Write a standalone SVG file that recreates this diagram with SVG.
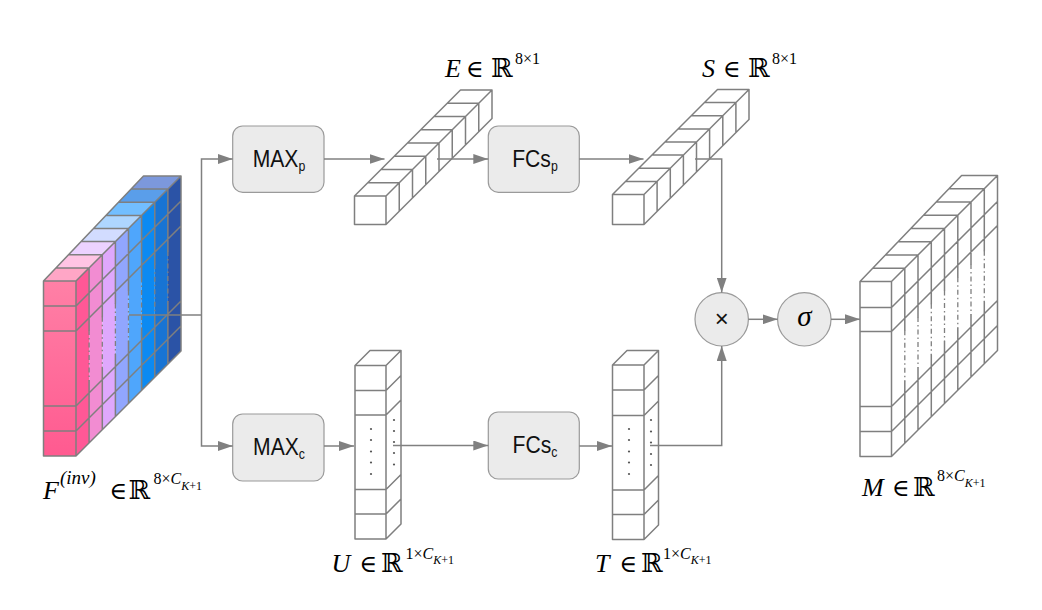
<svg xmlns="http://www.w3.org/2000/svg" width="1042" height="610" viewBox="0 0 1042 610">
<style>
.ln{fill:none;stroke:#7f7f7f;stroke-width:1.5;stroke-linejoin:round;stroke-linecap:round}
.dsh{fill:none;stroke:#7f7f7f;stroke-width:1.3;stroke-dasharray:5 3 1.5 3}
.wf{fill:#fff;stroke:none}
.box{fill:#ebebeb;stroke:#9a9a9a;stroke-width:1.2}
.conn{fill:none;stroke:#808080;stroke-width:1.5}
.arr{marker-end:url(#ah)}
.lbl{font-family:"Liberation Serif","DejaVu Serif",serif;font-size:26px;fill:#000}
.it{font-style:italic}
.el{font-size:24px}
.sup{font-size:16px}
.sub{font-size:12px}
.btxt{font-family:"Liberation Sans",Arial,sans-serif;font-size:24px;fill:#111}
.dot{fill:#555}
</style>
<defs>
<marker id="ah" viewBox="0 0 15 10" refX="15" refY="5" markerUnits="userSpaceOnUse" markerWidth="15" markerHeight="10" orient="auto">
<path d="M0,0 L15,5 L0,10 z" fill="#808080"/>
</marker>
<linearGradient id="fg" x1="0" y1="0" x2="0" y2="1">
<stop offset="0" stop-color="#ff80a6"/>
<stop offset="1" stop-color="#ff5a90"/>
</linearGradient>
</defs>
<rect width="1042" height="610" fill="#fff"/>

<!-- F tensor -->
<g id="F">
<polygon points="76,281 89.1,267.9 89.1,442.9 76,456" fill="#ff5896"/>
<polygon points="89.1,267.9 102.3,254.8 102.3,429.8 89.1,442.9" fill="#f28cd2"/>
<polygon points="102.3,254.8 115.4,241.6 115.4,416.6 102.3,429.8" fill="#dfa8fc"/>
<polygon points="115.4,241.6 128.5,228.5 128.5,403.5 115.4,416.6" fill="#91a6fe"/>
<polygon points="128.5,228.5 141.6,215.4 141.6,390.4 128.5,403.5" fill="#4fa6fc"/>
<polygon points="141.6,215.4 154.8,202.3 154.8,377.3 141.6,390.4" fill="#0c8af2"/>
<polygon points="154.8,202.3 167.9,189.1 167.9,364.1 154.8,377.3" fill="#1874d4"/>
<polygon points="167.9,189.1 181,176 181,351 167.9,364.1" fill="#2b53a6"/>
<polygon points="43.5,281 76,281 89.1,267.9 56,267.9" fill="#ffa6c6"/>
<polygon points="56,267.9 89.1,267.9 102.3,254.8 68.5,254.8" fill="#ffc4e4"/>
<polygon points="68.5,254.8 102.3,254.8 115.4,241.6 81,241.6" fill="#ecd2ff"/>
<polygon points="81,241.6 115.4,241.6 128.5,228.5 93.5,228.5" fill="#d2dcff"/>
<polygon points="93.5,228.5 128.5,228.5 141.6,215.4 106,215.4" fill="#aed6ff"/>
<polygon points="106,215.4 141.6,215.4 154.8,202.3 118.5,202.3" fill="#72beff"/>
<polygon points="118.5,202.3 154.8,202.3 167.9,189.1 131,189.1" fill="#5a9eea"/>
<polygon points="131,189.1 167.9,189.1 181,176 143.5,176" fill="#7c98dc"/>
<rect x="43.5" y="281" width="32.5" height="175" fill="url(#fg)"/>
<path class="ln" d="M43.5,306H76M43.5,331H76M43.5,406H76M43.5,431H76
M76,306L181,201M76,331L181,226M76,406L181,301M76,431L181,326
M56,267.9H89.1M68.5,254.8H102.3M81,241.6H115.4M93.5,228.5H128.5M106,215.4H141.6M118.5,202.3H154.8M131,189.1H167.9
M89.1,267.9V329.9M89.1,380.9V442.9
M102.3,254.8V316.8M102.3,367.8V429.8
M115.4,241.6V303.6M115.4,354.6V416.6
M128.5,228.5V290.5M128.5,341.5V403.5
M141.6,215.4V277.4M141.6,328.4V390.4
M154.8,202.3V264.3M154.8,315.3V377.3
M167.9,189.1V251.1M167.9,302.1V364.1
M43.5,281L143.5,176H181V351L76,456H43.5Z M43.5,281H76V456M76,281L181,176"/>
<path class="dsh" d="M89.1,329.9V380.9M102.3,316.8V367.8M115.4,303.6V354.6M128.5,290.5V341.5M141.6,277.4V328.4M154.8,264.3V315.3M167.9,251.1V302.1"/>
</g>

<!-- MAXp -->
<g id="maxp">
<rect class="box" x="232.7" y="126" width="91.3" height="66.3" rx="10"/>
<text class="btxt" transform="translate(279,167) scale(0.88,1)" text-anchor="middle">MAX<tspan font-size="14" dy="4">p</tspan></text>
</g>
<!-- MAXc -->
<g id="maxc">
<rect class="box" x="232.7" y="414" width="91.3" height="67" rx="10"/>
<text class="btxt" transform="translate(279,455) scale(0.88,1)" text-anchor="middle">MAX<tspan font-size="14" dy="4">c</tspan></text>
</g>
<!-- FCsp -->
<g id="fcsp">
<rect class="box" x="488.3" y="126" width="91" height="66.3" rx="10"/>
<text class="btxt" transform="translate(535,167) scale(0.88,1)" text-anchor="middle">FCs<tspan font-size="14" dy="4">p</tspan></text>
</g>
<!-- FCsc -->
<g id="fcsc">
<rect class="box" x="488.3" y="412" width="91" height="67" rx="10"/>
<text class="btxt" transform="translate(535,453) scale(0.88,1)" text-anchor="middle">FCs<tspan font-size="14" dy="4">c</tspan></text>
</g>

<!-- E tensor -->
<g id="E">
<polygon class="wf" points="354.5,196 386,196 492,90 460.5,90"/>
<polygon class="wf" points="386,196 492,90 492,118.5 386,224.5"/>
<rect class="wf" x="354.5" y="196" width="31.5" height="28.5"/>
<path class="ln" d="M367.75,182.75H399.25M381,169.5H412.5M394.25,156.25H425.75M407.5,143H439M420.75,129.75H452.25M434,116.5H465.5M447.25,103.25H478.75
M399.25,182.75V211.25M412.5,169.5V198M425.75,156.25V184.75M439,143V171.5M452.25,129.75V158.25M465.5,116.5V145M478.75,103.25V131.75
M354.5,196L460.5,90H492V118.5L386,224.5H354.5Z M354.5,196H386V224.5M386,196L492,90"/>
</g>

<!-- S tensor -->
<g id="S">
<polygon class="wf" points="612.5,194.5 644,194.5 749,89.5 717.5,89.5"/>
<polygon class="wf" points="644,194.5 749,89.5 749,119.5 644,224.5"/>
<rect class="wf" x="612.5" y="194.5" width="31.5" height="30"/>
<path class="ln" d="M625.6,181.4H657.1M638.8,168.3H670.3M651.9,155.1H683.4M665,142H696.5M678.1,128.9H709.6M691.3,115.8H722.8M704.4,102.6H735.9
M657.1,181.4V211.4M670.3,168.3V198.3M683.4,155.1V185.1M696.5,142V172M709.6,128.9V158.9M722.8,115.8V145.8M735.9,102.6V132.6
M612.5,194.5L717.5,89.5H749V119.5L644,224.5H612.5Z M612.5,194.5H644V224.5M644,194.5L749,89.5"/>
</g>

<!-- U tensor -->
<g id="U">
<polygon class="wf" points="355,365.5 386,365.5 401,350.5 370,350.5"/>
<polygon class="wf" points="386,365.5 401,350.5 401,524 386,539"/>
<rect class="wf" x="355" y="365.5" width="31" height="173.5"/>
<path class="ln" d="M355,390.5H386M355,415H386M355,489.5H386M355,514H386
M386,390.5L401,375.5M386,415L401,400M386,489.5L401,474.5M386,514L401,499
M355,365.5L370,350.5H401V524L386,539H355Z M355,365.5H386V539M386,365.5L401,350.5"/>
<circle class="dot" cx="371" cy="429" r="1.1"/><circle class="dot" cx="371" cy="440" r="1.1"/><circle class="dot" cx="371" cy="451.5" r="1.1"/><circle class="dot" cx="371" cy="462.5" r="1.1"/><circle class="dot" cx="371" cy="474" r="1.1"/>
<circle class="dot" cx="394" cy="420" r="1.1"/><circle class="dot" cx="394" cy="431" r="1.1"/><circle class="dot" cx="394" cy="442" r="1.1"/><circle class="dot" cx="394" cy="453" r="1.1"/><circle class="dot" cx="394" cy="464.5" r="1.1"/>
</g>

<!-- T tensor -->
<g id="T">
<polygon class="wf" points="612.5,365 644,365 658.5,350.5 627,350.5"/>
<polygon class="wf" points="644,365 658.5,350.5 658.5,525 644,539.5"/>
<rect class="wf" x="612.5" y="365" width="31.5" height="174.5"/>
<path class="ln" d="M612.5,390H644M612.5,415.5H644M612.5,490H644M612.5,514.5H644
M644,390L658.5,375.5M644,415.5L658.5,401M644,490L658.5,475.5M644,514.5L658.5,500
M612.5,365L627,350.5H658.5V525L644,539.5H612.5Z M612.5,365H644V539.5M644,365L658.5,350.5"/>
<circle class="dot" cx="629" cy="429" r="1.1"/><circle class="dot" cx="629" cy="440" r="1.1"/><circle class="dot" cx="629" cy="451.5" r="1.1"/><circle class="dot" cx="629" cy="462.5" r="1.1"/><circle class="dot" cx="629" cy="474" r="1.1"/>
<circle class="dot" cx="651" cy="420" r="1.1"/><circle class="dot" cx="651" cy="431.5" r="1.1"/><circle class="dot" cx="651" cy="442.5" r="1.1"/><circle class="dot" cx="651" cy="454" r="1.1"/><circle class="dot" cx="651" cy="465" r="1.1"/>
</g>

<!-- M tensor -->
<g id="M">
<polygon class="wf" points="860,281.5 891.5,281.5 997.5,175.5 961.6,175.5"/>
<polygon class="wf" points="891.5,281.5 997.5,175.5 997.5,350.5 891.5,456.5"/>
<rect class="wf" x="860" y="281.5" width="31.5" height="175"/>
<path class="ln" d="M860,307.5H891.5M860,331.5H891.5M860,406.5H891.5M860,431.5H891.5
M891.5,307.5L997.5,201.5M891.5,331.5L997.5,225.5M891.5,406.5L997.5,300.5M891.5,431.5L997.5,325.5
M872.7,268.25H904.75M885.4,255H918M898.1,241.75H931.25M910.8,228.5H944.5M923.5,215.25H957.75M936.2,202H971M948.9,188.75H984.25
M904.8,268.3V330.3M904.8,381.3V443.3
M918,255V317M918,368V430
M931.3,241.8V303.8M931.3,354.8V416.8
M944.5,228.5V290.5M944.5,341.5V403.5
M957.8,215.3V277.3M957.8,328.3V390.3
M971,202V264M971,315V377
M984.3,188.8V250.8M984.3,301.8V363.8
M860,281.5L961.6,175.5H997.5V350.5L891.5,456.5H860Z M860,281.5H891.5V456.5M891.5,281.5L997.5,175.5"/>
<path class="dsh" d="M904.8,330.3V381.3M918,317V368M931.3,303.8V354.8M944.5,290.5V341.5M957.8,277.3V328.3M971,264V315M984.3,250.8V301.8"/>
</g>

<!-- operators -->
<g id="mul">
<circle cx="721.7" cy="319.3" r="26.7" fill="#ebebeb" stroke="#9a9a9a" stroke-width="1.2"/>
<text x="721.7" y="327" text-anchor="middle" font-family="Liberation Sans, Arial, sans-serif" font-size="24" fill="#111">×</text>
</g>
<g id="sigma">
<circle cx="804.3" cy="319.3" r="26.7" fill="#ebebeb" stroke="#9a9a9a" stroke-width="1.2"/>
<text x="804.3" y="326" text-anchor="middle" font-family="Liberation Serif, DejaVu Serif, serif" font-style="italic" font-size="29" fill="#000">σ</text>
</g>

<!-- connectors -->
<g id="connectors">
<path class="conn" d="M129,315H201.5"/>
<path class="conn arr" d="M201.5,315V159H232.7"/>
<path class="conn arr" d="M201.5,315V446H232.7"/>
<path class="conn arr" d="M324,159H384.5"/>
<path class="conn arr" d="M437,159H488.3"/>
<path class="conn arr" d="M579.3,159H643.5"/>
<path class="conn arr" d="M695,159H721.7V292.6"/>
<path class="conn arr" d="M324,446H354"/>
<path class="conn arr" d="M393,445.5H488.3"/>
<path class="conn arr" d="M579.3,446H612"/>
<path class="conn arr" d="M650,445.5H721.7V346"/>
<path class="conn arr" d="M748.4,319.3H777.6"/>
<path class="conn arr" d="M831,319.3H860"/>
</g>

<!-- labels -->
<g id="labels">
<text class="lbl"><tspan class="it" x="43" y="499">F</tspan><tspan class="it" x="60" y="484" font-size="19">(inv)</tspan><tspan class="el" x="109.5" y="499">∈</tspan><tspan x="128.5" y="499">ℝ</tspan><tspan class="sup" x="153.5" y="484">8×</tspan><tspan class="sup it">C</tspan><tspan class="sub it" dy="6">K</tspan><tspan class="sub">+1</tspan></text>
<text class="lbl"><tspan class="it" x="445" y="77">E</tspan><tspan class="el" x="466" y="77">∈</tspan><tspan x="491" y="77">ℝ</tspan><tspan class="sup" x="515" y="64">8×1</tspan></text>
<text class="lbl"><tspan class="it" x="702" y="77">S</tspan><tspan class="el" x="723" y="77">∈</tspan><tspan x="748" y="77">ℝ</tspan><tspan class="sup" x="772" y="64">8×1</tspan></text>
<text class="lbl"><tspan class="it" x="331.5" y="571.5">U</tspan><tspan class="el" x="359.5" y="571.5">∈</tspan><tspan x="381" y="571.5">ℝ</tspan><tspan class="sup" x="405.5" y="559">1×</tspan><tspan class="sup it">C</tspan><tspan class="sub it" dy="5">K</tspan><tspan class="sub">+1</tspan></text>
<text class="lbl"><tspan class="it" x="595" y="571.5">T</tspan><tspan class="el" x="619.5" y="571.5">∈</tspan><tspan x="641" y="571.5">ℝ</tspan><tspan class="sup" x="663" y="559">1×</tspan><tspan class="sup it">C</tspan><tspan class="sub it" dy="5">K</tspan><tspan class="sub">+1</tspan></text>
<text class="lbl"><tspan class="it" x="862" y="496">M</tspan><tspan class="el" x="892" y="496">∈</tspan><tspan x="913" y="496">ℝ</tspan><tspan class="sup" x="937" y="481">8×</tspan><tspan class="sup it">C</tspan><tspan class="sub it" dy="6">K</tspan><tspan class="sub">+1</tspan></text>
</g>
</svg>
